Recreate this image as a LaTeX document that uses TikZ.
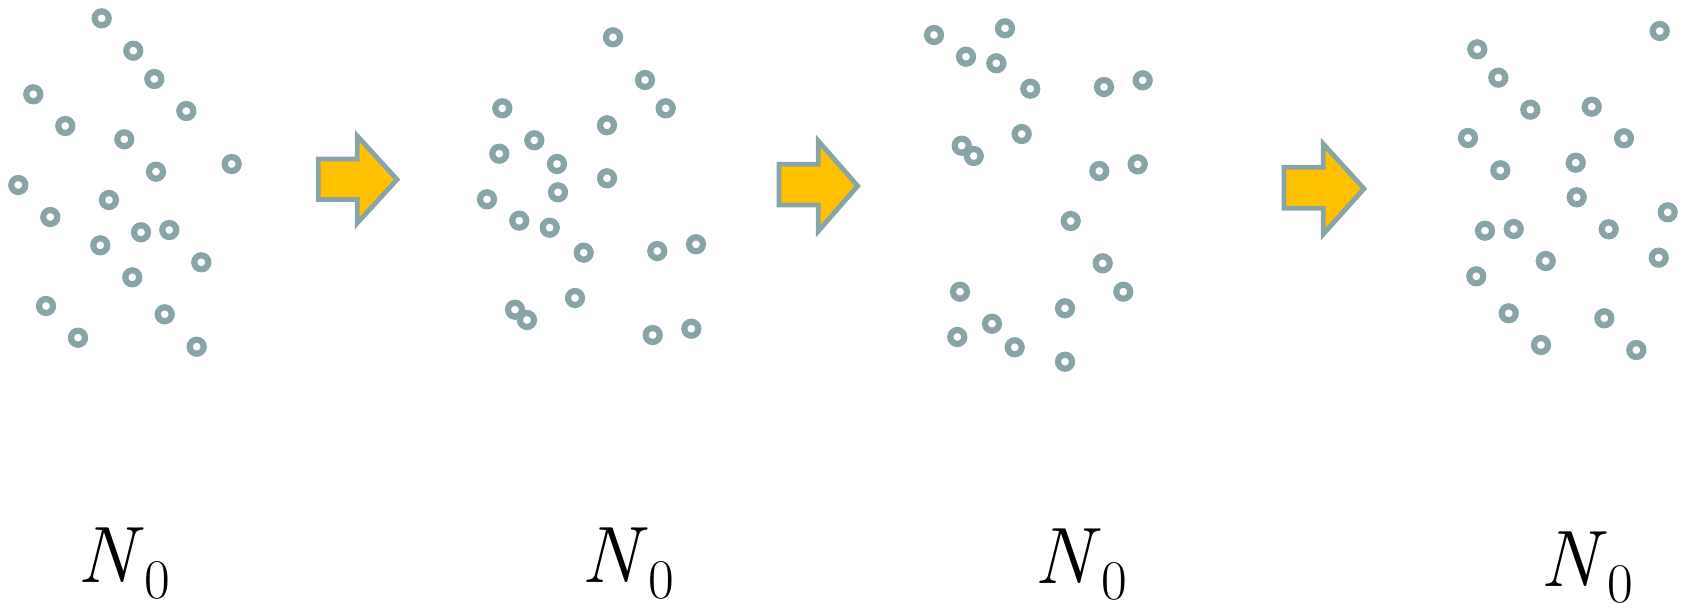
\documentclass[tikz,border=0pt]{standalone}
\definecolor{ringc}{RGB}{137,164,166}
\definecolor{arrowfill}{RGB}{255,192,0}
\newcommand{\Nzero}{\textit{N}\kern1pt\raisebox{-16pt}[\height][0pt]{\fontsize{56}{60}\selectfont 0}}
\tikzset{
  dot/.style={circle, draw=ringc, line width=6.2pt, minimum size=14pt, inner sep=0pt, fill=white},
  bigarrow/.style={draw=ringc, fill=arrowfill, line width=4.8pt, line join=miter},
  lab/.style={anchor=base, inner sep=0pt, font=\fontsize{80}{90}\selectfont}
}
\begin{document}
\begin{tikzpicture}[x=1pt,y=-1pt]
\useasboundingbox (0,0) rectangle (1686,608);
% panel 1
\foreach \x/\y [count=\i] in {101.7/18.3,133.3/50.7,154.3/79,33.3/94.3,186.3/111,65.3/126,124.3/139.3,231.7/164,156/171.7,18.3/185,109/200,50.3/217,141/232.3,169.3/230,100.3/245.3,201.3/262.3,132.3/277.3,46/306,164.7/314.3,78/337.7,196.7/346.7}
  \node[dot] (a\i) at (\x,\y) {};
% panel 2
\foreach \x/\y [count=\i] in {613/37.3,645/80,665.7/108.3,502.3/108.3,607/125.3,534.3/140.3,499.3/153.7,557/164,607/178.3,558/192.3,487/199.3,519.3/220.7,549.7/227.7,583.7/252.7,657.3/251,696/244.3,575/298,515/309.7,527/320,652.7/335,691.3/328.7}
  \node[dot] (b\i) at (\x,\y) {};
% panel 3
\foreach \x/\y [count=\i] in {934/35,1005/28.3,966/56.7,996.3/63.3,1030.3/88.7,1104/87,1142.7/80.3,1021.7/134,961.7/145.7,973.7/156,1099.3/171,1137.7/164.3,1070.7/221,1102.7/263.3,1123.3/291.7,960/291.7,992/323.7,1065/308.3,957.3/337,1014.7/347.3,1065/361.7}
  \node[dot] (c\i) at (\x,\y) {};
% panel 4
\foreach \x/\y [count=\i] in {1659.7/31,1477.3/49.3,1498.3/77.7,1530.3/109.7,1591.7/106.7,1468/138,1624/138.3,1500.3/170.3,1575.7/162.7,1576.7/197.3,1667.7/212.3,1485/230.7,1513.7/229,1608.7/229.3,1545.7/261,1658.7/257.7,1476.3/276.3,1508.7/313.3,1604.3/318.3,1541/345,1636.3/350}
  \node[dot] (d\i) at (\x,\y) {};
% arrows
\draw[bigarrow] (318.3,159) -- (357.3,159) -- (357.3,136) -- (397,179.5) -- (357.3,223) -- (357.3,199.5) -- (318.3,199.5) -- cycle;
\draw[bigarrow] (779,164.3) -- (818.3,164.3) -- (818.3,141) -- (857.7,186) -- (818.3,231) -- (818.3,205) -- (779,205) -- cycle;
\draw[bigarrow] (1284,167.3) -- (1323.3,167.3) -- (1323.3,144) -- (1364,188.7) -- (1323.3,234) -- (1323.3,208.3) -- (1284,208.3) -- cycle;
% labels
\node[lab] (l1) at (124,582) {\Nzero};
\node[lab] (l2) at (628,582) {\Nzero};
\node[lab] (l3) at (1081,583.3) {\Nzero};
\node[lab] (l4) at (1587,586.5) {\Nzero};
\end{tikzpicture}
\end{document}
